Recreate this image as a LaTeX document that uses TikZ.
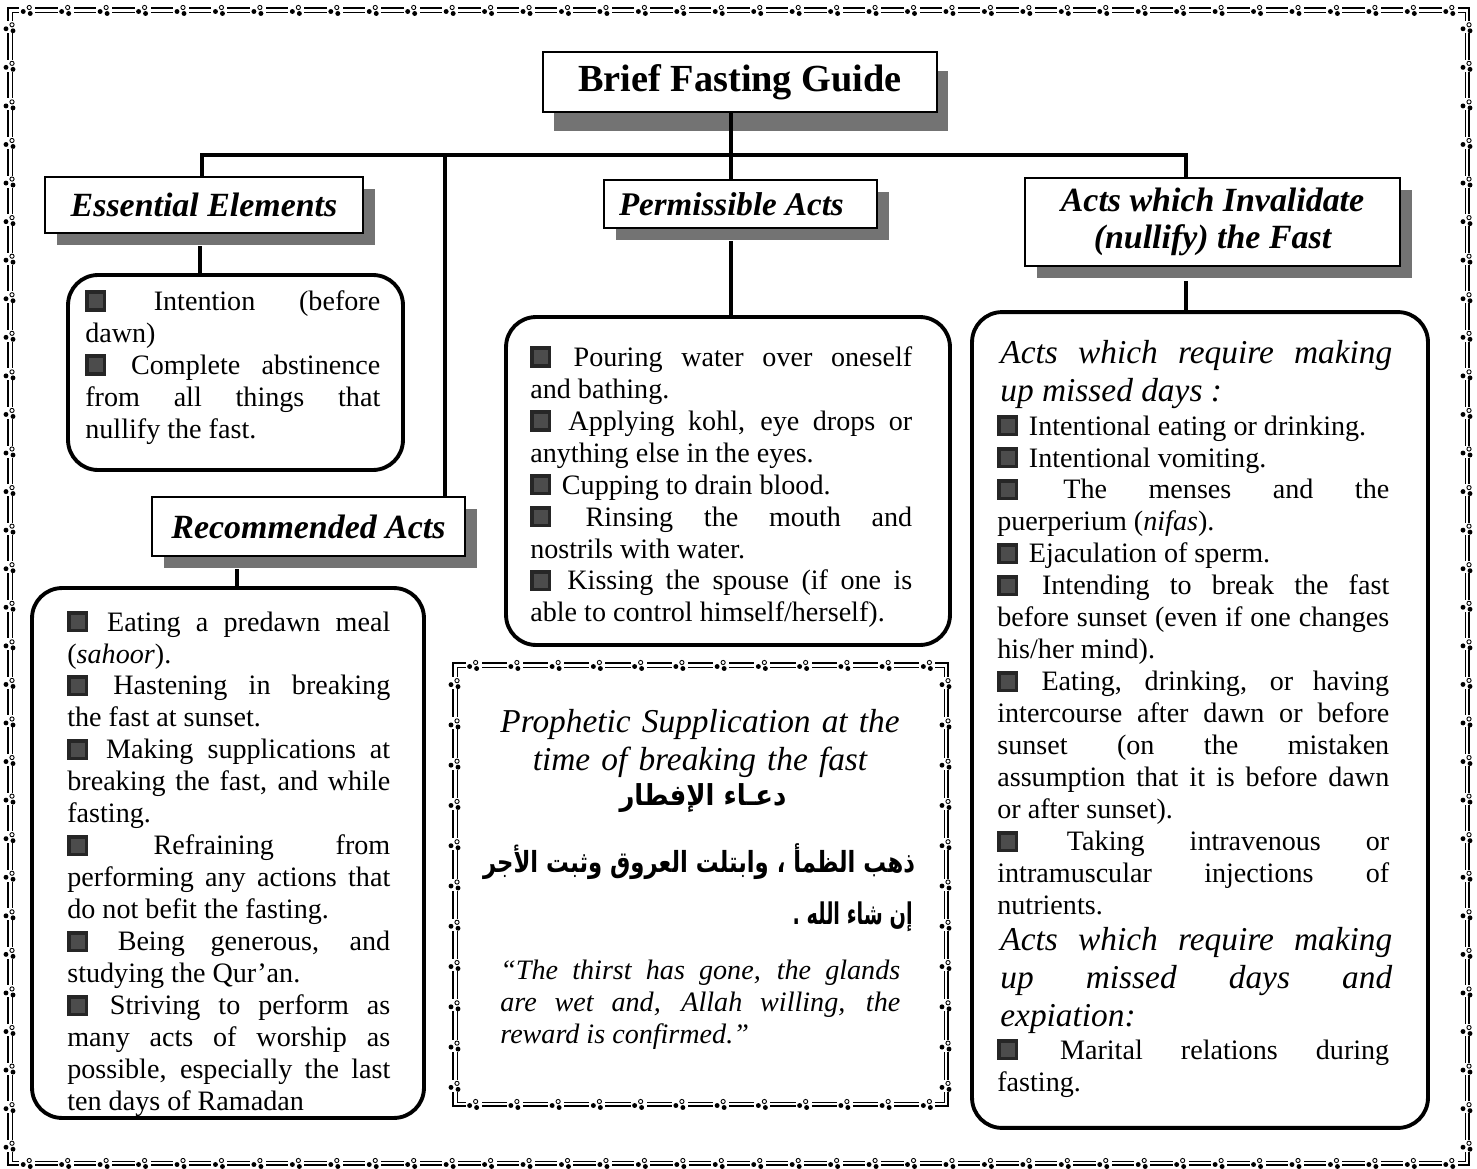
\documentclass[tikz,border=0pt]{standalone}
\usepackage{fontspec}
\usepackage{graphicx}
\setmainfont{Liberation Serif}
\newfontfamily\arabicfont[Script=Arabic]{DejaVu Sans}
\TeXXeTstate=1
\usetikzlibrary{shadows}
\setlength\parindent{0pt}
\tolerance=10000 \hbadness=10000 \hfuzz=20pt \emergencystretch=3em
\newcommand\bul{\mbox{\color{black!85}\rule[-0.8pt]{12pt}{12pt}\hspace{-10pt}\color{black!70}\rule[1.2pt]{8pt}{8pt}\hspace{4pt}}}
\newcommand\decoframe[5]{%
  \draw[line width=0.9pt] (#1,#2) rectangle (#3,#4);
  \draw[line width=0.5pt] ({#1+4},{#2+4}) rectangle ({#3-4},{#4-4});
  \pgfmathtruncatemacro\nh{round((#3-#1)/#5)}%
  \pgfmathtruncatemacro\nv{round((#4-#2)/#5)}%
  \pgfmathsetmacro\sh{(#3-#1)/\nh}%
  \pgfmathsetmacro\sv{(#4-#2)/\nv}%
  \foreach \i in {1,...,\nh}{%
    \pgfmathsetmacro\xx{#1+\sh*(\i-0.5)}%
    \pic at (\xx,{#2+2}) {clus};
    \pic at (\xx,{#4-2}) {clus};
  }%
  \foreach \i in {1,...,\nv}{%
    \pgfmathsetmacro\yy{#2+\sv*(\i-0.5)}%
    \pic at ({#1+2},\yy) {clus};
    \pic at ({#3-2},\yy) {clus};
  }%
}
\tikzset{
  clus/.pic={
    \fill[white] (-8,-6) rectangle (8,6);
    \fill (-4,1.5) circle[radius=1.4pt];
    \draw[line width=0.5pt,fill=white] (2,-2.5) circle[radius=1.2pt];
    \fill (3,3.5) circle[radius=1.4pt];
  },
  hdr/.style={draw, line width=1.2pt, fill=white, inner sep=0pt, align=center,
    font=\fontsize{19.3}{21}\selectfont\bfseries\itshape,
    drop shadow={shadow xshift=0.24cm, shadow yshift=-0.24cm, fill=black!55, opacity=1}},
  cbox/.style={draw, line width=2.2pt, rounded corners=0.6cm, inner sep=0pt},
  body/.style={inner sep=0pt, anchor=north west, align=justify,
    font=\fontsize{16}{18.2}\selectfont},
  ithead/.style={inner sep=0pt, anchor=north west, align=justify,
    font=\fontsize{19}{21.6}\selectfont\itshape},
  conn/.style={line width=2pt, line join=miter},
}
\begin{document}
\begin{tikzpicture}[x=0.02cm, y=-0.02cm]
\useasboundingbox (0,0) rectangle (1477,1169);
\fill[white] (0,0) rectangle (1477,1169);

% decorative frames
\decoframe{8}{8}{1469}{1165}{38}
\decoframe{453}{663}{948}{1106}{41}

% title
\node[draw, line width=1.2pt, fill=white, inner sep=0pt, minimum width=7.88cm, minimum height=1.2cm,
  font=\fontsize{21.8}{26}\selectfont\bfseries,
  drop shadow={shadow xshift=0.22cm, shadow yshift=-0.38cm, fill=black!55, opacity=1}]
  (T) at (740,82) {Brief Fasting Guide};

% headers
\node[hdr, minimum width=6.36cm, minimum height=1.12cm] (EE) at (204,205) {Essential Elements};
\node[hdr, minimum width=5.46cm, minimum height=0.96cm, font=\fontsize{18.8}{21}\selectfont\bfseries\itshape] (PA) at (740.5,204) {Permissible Acts\hspace{0.55em}};
\node[hdr, minimum width=7.5cm, minimum height=1.76cm] (AI) at (1212.5,222) {Acts which Invalidate\\(nullify) the Fast};
\node[hdr, minimum width=6.26cm, minimum height=1.18cm] (RA) at (308.5,526.5) {Recommended Acts};

% content boxes
\node[cbox, minimum width=6.7cm, minimum height=3.9cm] (EEc) at (235.5,372.5) {};
\node[cbox, minimum width=7.84cm, minimum height=10.6cm] (RAc) at (228,853) {};
\node[cbox, minimum width=8.88cm, minimum height=6.56cm] (PAc) at (728,481) {};
\node[cbox, minimum width=9.12cm, minimum height=16.32cm] (AIc) at (1200,720) {};

% texts
\node[body, text width=5.9cm] (EEt) at (85,290) {%
\bul{} Intention (before\linebreak dawn)\par
\bul{} Complete abstinence\linebreak from all things that\linebreak nullify the fast.};

\node[body, text width=6.46cm] (RAt) at (67,611) {%
\bul{} Eating a predawn meal\linebreak (\textit{sahoor}).\par
\bul{} Hastening in breaking\linebreak the fast at sunset.\par
\bul{} Making supplications at\linebreak breaking the fast, and while\linebreak fasting.\par
\bul{} Refraining from\linebreak performing any actions that\linebreak do not befit the fasting.\par
\bul{} Being generous, and\linebreak studying the Qur’an.\par
\bul{} Striving to perform as\linebreak many acts of worship as\linebreak possible, especially the last\linebreak ten days of Ramadan};

\node[body, text width=7.64cm] (PAt) at (530,346) {%
\bul{} Pouring water over oneself\linebreak and bathing.\par
\bul{} Applying kohl, eye drops or\linebreak anything else in the eyes.\par
\bul{} Cupping to drain blood.\par
\bul{} Rinsing the mouth and\linebreak nostrils with water.\par
\bul{} Kissing the spouse (if one is\linebreak able to control himself/herself).};

\node[ithead, text width=7.84cm] (AIh1) at (1000,340) {Acts which require making\linebreak up missed days :};
\node[body, text width=7.84cm] (AIb1) at (997,415) {%
\bul{} Intentional eating or drinking.\par
\bul{} Intentional vomiting.\par
\bul{} The menses and the\linebreak puerperium (\textit{nifas}).\par
\bul{} Ejaculation of sperm.\par
\bul{} Intending to break the fast\linebreak before sunset (even if one changes\linebreak his/her mind).\par
\bul{} Eating, drinking, or having\linebreak intercourse after dawn or before\linebreak sunset (on the mistaken\linebreak assumption that it is before dawn\linebreak or after sunset).\par
\bul{} Taking intravenous or\linebreak intramuscular injections of\linebreak nutrients.};
\node[ithead, text width=7.84cm] (AIh2) at (1000,927) {Acts which require making\linebreak up missed days and\linebreak expiation:};
\node[body, text width=7.84cm] (AIb2) at (997,1039) {%
\bul{} Marital relations during\linebreak fasting.};

% supplication
\node[inner sep=0pt, anchor=north, text width=8.8cm, align=center,
  font=\fontsize{19}{21.6}\selectfont\itshape] (SPh) at (700,709) {Prophetic Supplication at the\\time of breaking the fast};
\node[inner sep=0pt] (AR1) at (703,798) {\resizebox*{3.34cm}{0.58cm}{\arabicfont\bfseries\beginR دعـاء الإفطار\endR}};
\node[inner sep=0pt] (AR2) at (699,862) {\resizebox*{8.64cm}{0.72cm}{\arabicfont\bfseries\beginR ذهب الظمأ ، وابتلت العروق وثبت الأجر\endR}};
\node[inner sep=0pt, anchor=east] (AR3) at (913,917) {\resizebox*{2.4cm}{0.6cm}{\arabicfont\bfseries\beginR إن شاء الله .\endR}};
\node[inner sep=0pt, anchor=north west, text width=8cm, align=justify,
  font=\fontsize{16}{18.2}\selectfont\itshape] (SPq) at (500,960) {“The thirst has gone, the glands\linebreak are wet and, Allah willing, the\linebreak reward is confirmed.”};

% connectors
\coordinate (j0) at (731,155);
\coordinate (jE) at (202,155);
\coordinate (jR) at (445,155);
\coordinate (jA) at (1186,155);
\coordinate (cE) at (200,0);
\coordinate (cR) at (237,0);
\draw[conn] (T.south -| j0) -- (j0);
\draw[conn] (EE.north -| jE) -- (jE) -- (jA) -- (AI.north -| jA);
\draw[conn] (jR) -- (RA.north -| jR);
\draw[conn] (j0) -- (PA.north -| j0);
\draw[conn] ([yshift=-0.24cm]EE.south -| cE) -- (EEc.north -| cE);
\draw[conn] ([yshift=-0.24cm]RA.south -| cR) -- (RAc.north -| cR);
\draw[conn] ([yshift=-0.24cm]PA.south -| j0) -- (PAc.north -| j0);
\draw[conn] ([yshift=-0.28cm]AI.south -| jA) -- (AIc.north -| jA);
\end{tikzpicture}
\end{document}
